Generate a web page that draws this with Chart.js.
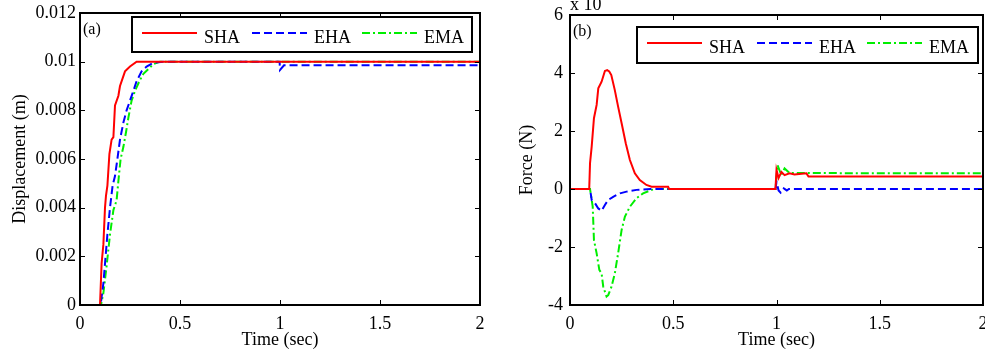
<!DOCTYPE html>
<html>
<head>
<meta charset="utf-8">
<script src="https://cdn.jsdelivr.net/npm/chart.js@4.4.1/dist/chart.umd.min.js"></script>
<style>
  html, body { margin: 0; padding: 0; background: #fff; overflow: hidden; }
  .panel { position: absolute; top: 0; }
</style>
</head>
<body>
<div class="panel" style="left:0px"><canvas id="dispChart" width="495" height="351"></canvas></div>
<div class="panel" style="left:490px"><canvas id="forceChart" width="510" height="351"></canvas></div>
<script>
//Series names
const seriesNames = ["SHA", "EHA", "EMA"];

//Tick labels
const timeTicks = [0, 0.5, 1, 1.5, 2];
const dispTicks = [0, 0.002, 0.004, 0.006, 0.008, 0.01, 0.012];
const forceTicks = [-4, -2, 0, 2, 4, 6];

//Displacement (m) vs time (sec)
const dispTimeSHA = [0, 0.1, 0.108, 0.117, 0.125, 0.13, 0.137, 0.147, 0.158, 0.167, 0.175, 0.192, 0.2, 0.225, 0.25, 0.283, 0.31, 1.0, 2.0];
const dispSHA = [0, 0, 0.0017, 0.0025, 0.004, 0.0045, 0.0049, 0.0062, 0.0068, 0.0069, 0.0082, 0.0086, 0.009, 0.0096, 0.0098, 0.01, 0.01, 0.01, 0.01];

const dispTimeEHA = [0, 0.103, 0.117, 0.125, 0.137, 0.15, 0.163, 0.175, 0.187, 0.2, 0.217, 0.233, 0.25, 0.267, 0.283, 0.308, 0.333, 0.367, 0.417, 0.998, 1.0, 1.02, 2.0];
const dispEHA = [0, 0, 0.0009, 0.0017, 0.0029, 0.004, 0.0049, 0.0053, 0.006, 0.0068, 0.0075, 0.008, 0.0084, 0.0088, 0.0092, 0.0096, 0.0098, 0.00995, 0.01, 0.01, 0.00966, 0.00985, 0.00985];

const dispTimeEMA = [0, 0.105, 0.117, 0.133, 0.15, 0.167, 0.183, 0.192, 0.203, 0.217, 0.23, 0.242, 0.258, 0.275, 0.297, 0.317, 0.342, 0.367, 0.4, 1.0, 2.0];
const dispEMA = [0, 0, 0.0005, 0.0016, 0.0029, 0.0039, 0.0043, 0.0051, 0.006, 0.0065, 0.0071, 0.0077, 0.0084, 0.0088, 0.0092, 0.0095, 0.0097, 0.0099, 0.01, 0.01, 0.01];

//Force (N, x 10^n) vs time (sec)
const forceTimeSHA = [0, 0.093, 0.097, 0.105, 0.116, 0.129, 0.137, 0.153, 0.169, 0.18, 0.19, 0.2, 0.217, 0.233, 0.25, 0.27, 0.29, 0.314, 0.338, 0.37, 0.395, 0.475, 0.48, 0.995, 1.0, 1.01, 1.024, 1.039, 1.063, 1.087, 1.145, 1.155, 2.0];
const forceSHA = [0, 0, 0.89, 1.46, 2.44, 2.9, 3.47, 3.7, 4.07, 4.1, 4.05, 3.93, 3.41, 2.84, 2.27, 1.58, 1.0, 0.54, 0.31, 0.14, 0.08, 0.08, 0, 0, 0.66, 0.38, 0.59, 0.48, 0.54, 0.5, 0.54, 0.43, 0.43];

const forceTimeEHA = [0, 0.097, 0.105, 0.121, 0.137, 0.153, 0.169, 0.185, 0.209, 0.242, 0.274, 0.322, 0.39, 0.995, 1.0, 1.01, 1.02, 1.035, 1.05, 1.06, 2.0];
const forceEHA = [0, 0, -0.38, -0.49, -0.67, -0.75, -0.55, -0.38, -0.27, -0.15, -0.09, -0.03, 0, 0, 0.25, -0.05, -0.13, 0.02, -0.05, 0, 0];

const forceTimeEMA = [0, 0.097, 0.11, 0.116, 0.129, 0.142, 0.153, 0.161, 0.177, 0.185, 0.201, 0.217, 0.233, 0.25, 0.266, 0.29, 0.322, 0.354, 0.395, 0.419, 0.995, 1.005, 1.023, 1.039, 1.063, 2.0];
const forceEMA = [0, 0, -0.61, -1.76, -2.22, -2.79, -2.91, -3.37, -3.71, -3.66, -3.37, -2.91, -2.22, -1.41, -0.95, -0.61, -0.32, -0.15, -0.03, 0, 0, 0.83, 0.48, 0.71, 0.55, 0.54];

//Helpers
function pairs(ts, vs) {
  return ts.map(function(t, i) { return {x: t, y: vs[i]}; });
}

const serif = '"Liberation Serif", "Times New Roman", serif';
const lineStyles = [
  {borderColor: "#ff0000", borderDash: []},
  {borderColor: "#0000ff", borderDash: [8, 4]},
  {borderColor: "#00ee00", borderDash: [8, 3, 2, 3]}
];

function makeDatasets(list) {
  return list.map(function(d, i) {
    return {
      label: seriesNames[i],
      data: d,
      borderColor: lineStyles[i].borderColor,
      borderDash: lineStyles[i].borderDash,
      borderWidth: 2,
      pointRadius: 0,
      fill: false,
      tension: 0
    };
  });
}

//MATLAB style box, inward ticks, legend and panel tag
const matlabAxes = {
  id: 'matlabAxes',
  afterDraw(chart, args, opts) {
    const ctx = chart.ctx;
    const a = chart.chartArea;
    const sx = chart.scales.x;
    const sy = chart.scales.y;
    ctx.save();
    ctx.strokeStyle = "#000";
    ctx.lineWidth = 1;
    ctx.beginPath();
    sx.ticks.forEach(function(t) {
      let px = Math.round(sx.getPixelForValue(t.value)) + 0.5;
      ctx.moveTo(px, a.bottom); ctx.lineTo(px, a.bottom - 5);
      ctx.moveTo(px, a.top); ctx.lineTo(px, a.top + 5);
    });
    sy.ticks.forEach(function(t) {
      let py = Math.round(sy.getPixelForValue(t.value)) + 0.5;
      ctx.moveTo(a.left, py); ctx.lineTo(a.left + 5, py);
      ctx.moveTo(a.right, py); ctx.lineTo(a.right - 5, py);
    });
    ctx.stroke();
    ctx.lineWidth = 2;
    ctx.strokeRect(a.left, a.top, a.right - a.left, a.bottom - a.top);

    ctx.fillStyle = "#000";
    ctx.font = "16px " + serif;
    ctx.textBaseline = "alphabetic";
    ctx.textAlign = "left";
    ctx.fillText(opts.tag, a.left + 3, a.top + 21);
    if (opts.exponent) {
      ctx.font = "18px " + serif;
      ctx.fillText(opts.exponent, a.left, a.top - 5);
    }

    //legend
    let bw = opts.legendW, bh = opts.legendH;
    let bx = a.right - opts.legendRight - bw;
    let by = a.top + opts.legendTop;
    ctx.fillStyle = "#fff";
    ctx.fillRect(bx, by, bw, bh);
    ctx.strokeStyle = "#000";
    ctx.lineWidth = 2;
    ctx.strokeRect(bx, by, bw, bh);
    ctx.font = "18px " + serif;
    chart.data.datasets.forEach(function(ds, i) {
      let lx = bx + 10 + i * 110;
      let ly = by + 16;
      ctx.strokeStyle = ds.borderColor;
      ctx.lineWidth = ds.borderWidth;
      ctx.setLineDash(ds.borderDash);
      ctx.beginPath();
      ctx.moveTo(lx, ly); ctx.lineTo(lx + 55, ly);
      ctx.stroke();
      ctx.setLineDash([]);
      ctx.fillStyle = "#000";
      ctx.fillText(ds.label, lx + 62, by + 26);
    });
    ctx.restore();
  }
};

function makeOptions(o) {
  return {
    responsive: false,
    animation: false,
    layout: {autoPadding: false, padding: o.padding},
    plugins: {
      legend: {display: false},
      tooltip: {enabled: false},
      matlabAxes: o.axes
    },
    scales: {
      x: {
        type: 'linear', min: 0, max: 2,
        afterBuildTicks: function(s) { s.ticks = timeTicks.map(function(v) { return {value: v}; }); },
        afterFit: function(s) { s.height = 46; s.paddingLeft = 0; s.paddingRight = 0; },
        grid: {display: false, drawTicks: false},
        border: {display: false},
        ticks: {color: "#000", padding: 8, maxRotation: 0, font: {family: serif, size: 18}, callback: function(v) { return String(v); }},
        title: {display: true, text: "Time (sec)", color: "#000", padding: {top: 0, bottom: 0}, font: {family: serif, size: 18}}
      },
      y: {
        type: 'linear', min: o.yTicks[0], max: o.yTicks[o.yTicks.length - 1],
        afterBuildTicks: function(s) { s.ticks = o.yTicks.map(function(v) { return {value: v}; }); },
        afterFit: function(s) { s.width = 80; s.paddingTop = 0; s.paddingBottom = 0; },
        grid: {display: false, drawTicks: false},
        border: {display: false},
        ticks: {color: "#000", padding: o.tickPad, font: {family: serif, size: 18}, callback: function(v) { return String(+v.toFixed(3)); }},
        title: {display: true, text: o.yTitle, color: "#000", padding: {top: o.titlePad, bottom: 0}, font: {family: serif, size: 18}}
      }
    }
  };
}

Chart.register(matlabAxes);

//(a) displacement
new Chart(document.getElementById('dispChart'), {
  type: 'line',
  data: {datasets: makeDatasets([pairs(dispTimeSHA, dispSHA), pairs(dispTimeEHA, dispEHA), pairs(dispTimeEMA, dispEMA)])},
  options: makeOptions({
    padding: {left: 0, top: 13, right: 15, bottom: 0},
    yTicks: dispTicks, yTitle: "Displacement (m)", titlePad: 9, tickPad: 4,
    axes: {tag: "(a)", legendW: 340, legendH: 35, legendRight: 8, legendTop: 4}
  })
});

//(b) force
new Chart(document.getElementById('forceChart'), {
  type: 'line',
  data: {datasets: makeDatasets([pairs(forceTimeSHA, forceSHA), pairs(forceTimeEHA, forceEHA), pairs(forceTimeEMA, forceEMA)])},
  options: makeOptions({
    padding: {left: 0, top: 15, right: 17, bottom: 0},
    yTicks: forceTicks, yTitle: "Force (N)", titlePad: 26, tickPad: 7,
    axes: {tag: "(b)", exponent: "x 10", legendW: 341, legendH: 36, legendRight: 5, legendTop: 12}
  })
});
</script>
</body>
</html>
